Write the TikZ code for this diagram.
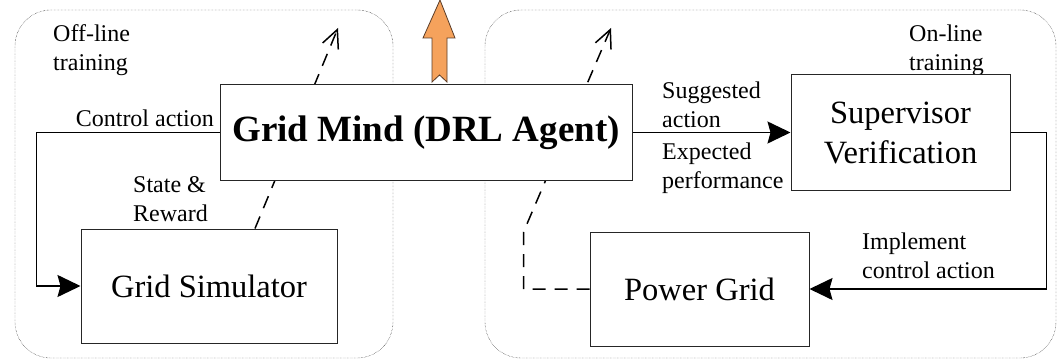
\documentclass[tikz,border=0pt]{standalone}
\usepackage{fontspec}
\setmainfont{Liberation Serif}
\usepackage{tikz}
\usetikzlibrary{arrows.meta,positioning,calc}
\definecolor{upfill}{RGB}{245,162,92}
\definecolor{upline}{RGB}{90,60,40}

\begin{document}
\begin{tikzpicture}[
  x=1pt,y=-1pt,
  panel/.style={draw,densely dotted,thin,rounded corners=36pt,minimum width=#1,minimum height=348pt,inner sep=0pt},
  box/.style={draw=black!85,line width=1pt,fill=white,align=center,inner sep=0pt,font=\fontsize{32.5}{40}\selectfont},
  lbl/.style={inner sep=0pt,align=left,font=\fontsize{24}{29}\selectfont},
  arr/.style={-{Stealth[length=23pt,width=22pt,inset=3pt]},line width=1.5pt},
  dep/.style={-{Straight Barb[length=18pt,width=17pt]},dash pattern=on 13pt off 9pt,line width=1.5pt}
]
\useasboundingbox (0,0) rectangle (1058,361);
% the two training areas
\node[panel=378pt] (offline) at (204,184) {};
\node[panel=571pt] (online) at (770.5,184) {};
\node[lbl,anchor=north west] (offlbl) at (53,24) {Off-line\\training};
\node[lbl,anchor=north west] (onlbl) at (909,25) {On-line\\training};
% blocks
\node[box,minimum width=256pt,minimum height=114pt] (sim) at (209,286) {Grid Simulator};
\node[box,minimum width=219pt,minimum height=114pt] (pgrid) at (699.5,289) {Power Grid};
\node[box,minimum width=219pt,minimum height=115pt] (sup) at (900.5,132.5) {Supervisor\\Verification};
% dashed feedback, behind the agent
\draw[dep] ($(sim.north)+(46,0)$) -- (338,28);
\draw[dep] (pgrid.west) -- ++(-66,0) -- ++(0,-57) -- (611,28);
\node[box,minimum width=412pt,minimum height=95pt,font=\fontsize{37}{44}\selectfont\bfseries] (mind) at (426,132.5) {Grid Mind (DRL Agent)};
% output arrow
\draw[fill=upfill,draw=upline,line width=.8pt] (440,0) -- (455,38) -- (447,38) -- (447,82) -- (439.5,75) -- (432,82) -- (432,38) -- (423,38) -- cycle;
% control loops
\draw[arr] (mind.west) -- ++(-183,0) |- (sim.west);
\draw[arr] (mind.east) -- (sup.west);
\draw[arr] (sup.east) -- ++(36,0) |- (pgrid.east);
\node[lbl,anchor=base east] (ctrl) at (214,126) {Control action};
\node[lbl,anchor=north west] (state) at (133,176) {State \&\\Reward};
\node[lbl,anchor=north west] (sugg) at (662,82) {Suggested\\action};
\node[lbl,anchor=north west] (expt) at (662,143) {Expected\\performance};
\node[lbl,anchor=north west] (impl) at (862,233) {Implement\\control action};
\end{tikzpicture}
\end{document}
